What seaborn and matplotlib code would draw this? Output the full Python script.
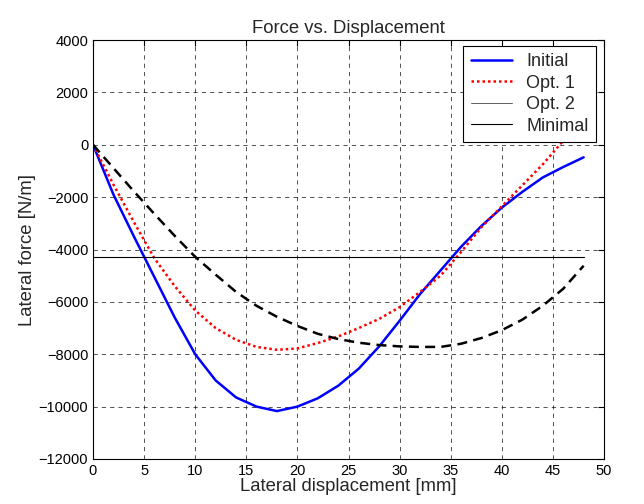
import numpy as np
import pandas as pd
import matplotlib
matplotlib.use("Agg")
import matplotlib.pyplot as plt
import seaborn as sns
from matplotlib.lines import Line2D

# displacement [mm]
disp = [0, 2, 4, 6, 8, 10, 12, 14, 16, 18, 20, 22, 24,
        26, 28, 30, 32, 34, 36, 38, 40, 42, 44, 46, 48]

# lateral force [N/m]
initial = [0, -1900, -3500, -5050, -6600, -8000, -9000, -9650, -10000, -10170,
           -10000, -9680, -9200, -8550, -7700, -6720, -5700, -4800, -3900,
           -3100, -2400, -1800, -1250, -850, -480]
opt1 = [0, -1520, -2950, -4330, -5400, -6330, -7000, -7450, -7720, -7830,
        -7780, -7570, -7320, -7000, -6650, -6200, -5620, -5000, -4100,
        -3150, -2350, -1550, -750, 150, 1000]
opt2 = [0, -890, -1780, -2640, -3480, -4280, -4960, -5620, -6150, -6570,
        -6920, -7220, -7420, -7560, -7650, -7700, -7720, -7720, -7600,
        -7380, -7080, -6680, -6150, -5500, -4620]
minimal = [-4280] * len(disp)

df = pd.DataFrame({"disp": disp, "Initial": initial, "Opt. 1": opt1,
                   "Opt. 2": opt2, "Minimal": minimal})

sns.set_style("white")
plt.rcParams['font.family'] = ['Liberation Sans', 'DejaVu Sans']
plt.rcParams['xtick.direction'] = 'in'
plt.rcParams['ytick.direction'] = 'in'

fig = plt.figure(figsize=(6.44, 5.04), dpi=100)
ax = fig.add_axes([0.1444, 0.0893, 0.7936, 0.8313])

sns.lineplot(data=df, x="disp", y="Initial", ax=ax, color="blue", linewidth=1.8)
sns.lineplot(data=df, x="disp", y="Opt. 1", ax=ax, color="red", linewidth=1.8,
             linestyle=(0, (1, 1.2)))
sns.lineplot(data=df, x="disp", y="Opt. 2", ax=ax, color="black", linewidth=1.8,
             linestyle=(0, (4, 2.5)))
sns.lineplot(data=df, x="disp", y="Minimal", ax=ax, color="black", linewidth=0.8)

ax.set_xlim(0, 50)
ax.set_ylim(-12000, 4000)
ax.set_xticks(np.arange(0, 51, 5))
ax.set_yticks(np.arange(-12000, 4001, 2000))
ax.grid(True, color="black", linestyle=(0, (5, 5)), linewidth=0.6, alpha=0.8)
for s in ax.spines.values():
    s.set_color("black")
    s.set_linewidth(0.8)
ax.tick_params(axis="both", labelsize=10.5, colors="black", length=4,
               top=True, right=True, width=0.8)

ax.set_title("Force vs. Displacement", fontsize=13.3, pad=5)
ax.set_xlabel("Lateral displacement [mm]", fontsize=13.3, labelpad=0)
ax.set_ylabel("Lateral force [N/m]", fontsize=13.3, labelpad=2)

handles = [
    Line2D([], [], color="blue", linewidth=1.8),
    Line2D([], [], color="red", linewidth=1.8, linestyle=(0, (1, 1.2))),
    Line2D([], [], color="#444444", linewidth=0.6),
    Line2D([], [], color="black", linewidth=0.8),
]
leg = ax.legend(handles, ["Initial", "Opt. 1", "Opt. 2", "Minimal"],
                loc="upper right", fontsize=13, fancybox=False, framealpha=1,
                edgecolor="black", borderpad=0.4, labelspacing=0.25,
                handlelength=2.3, handletextpad=0.8, borderaxespad=0,
                bbox_to_anchor=(1 - 8 / 511, 1 - 6 / 419))
leg.get_frame().set_linewidth(0.8)

fig.savefig("out.png", dpi=100)
